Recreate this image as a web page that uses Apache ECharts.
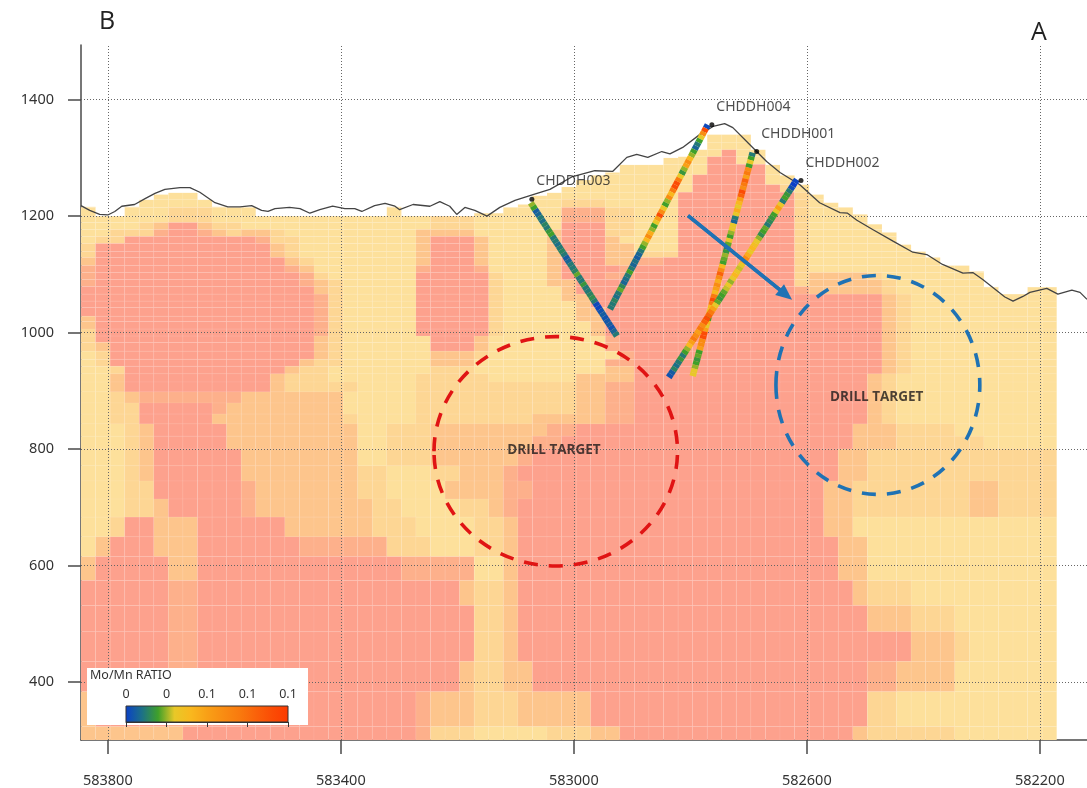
<!DOCTYPE html>
<html><head><meta charset="utf-8">
<style>html,body{margin:0;padding:0;background:#fff}#c{width:1087px;height:788px}</style>
<script src="https://cdn.jsdelivr.net/npm/echarts@6/dist/echarts.min.js"></script>
</head><body><div id="c"></div>
<script>
const xTicks=[582200,582600,583000,583400,583800];
const yTicks=[400,600,800,1000,1200,1400];
const levelColors=['#FFFFFF','#FDE09B','#FDD694','#FDC58C','#FDB08B','#FDA18D'];
const cellWestEdge=583846, cellWidth=25;
const columnTops=[1216,1200,1200,1216,1228,1237,1240,1240,1228,1216,1215,1215,1200,1200,1200,1200,1200,1200,1200,1200,1200,1216,1200,1200,1200,1200,1200,1205,1205,1215,1220,1235,1240,1250,1262,1270,1275,1288,1288,1288,1300,1302,1314,1340,1340,1340,1314,1288,1270,1254,1237,1223,1215,1203,1186,1172,1151,1139,1129,1115,1115,1105,1078,1066,1066,1078,1078];
const rowEdges=[1350,1326,1314,1302,1289,1271,1254,1241,1229,1215,1200,1189,1177,1165,1153,1139,1129,1115,1103,1091,1079,1066,1054,1043,1028,1019,1006,994,983,968,954,942,929,915,898,879,860,843,822,800,771,745,714,683,649,615,574,531,486,435,383,323,300];
const heatRuns=[
"1@67","1@67","1@44 5@45 1@67","1@43 5@45 1@67","1@43 5@47 1@67","1@42 5@47 1@67","1@42 5@48 2@49 1@67",
"1@41 5@49 2@50 1@67","1@33 2@36 1@41 5@49 2@50 1@67","1@6 2@9 1@33 4@36 2@38 1@41 5@49 2@50 1@67",
"1@6 2@9 1@24 2@27 1@33 4@36 2@38 1@41 5@49 2@50 1@67",
"1@4 2@5 3@6 5@8 3@9 2@11 1@24 2@27 1@33 5@36 2@38 1@41 5@49 2@50 1@67",
"1@2 2@5 4@6 5@8 4@9 3@10 2@11 3@13 2@14 1@23 3@27 1@32 3@33 5@36 2@38 1@41 5@49 2@50 1@67",
"1@1 2@3 5@12 4@13 2@15 1@23 3@24 5@27 3@28 1@32 3@33 5@36 3@37 1@41 5@49 2@50 1@67",
"2@1 5@13 3@14 2@15 1@23 3@24 5@27 3@28 1@32 3@33 5@36 3@38 1@41 5@49 2@50 1@67",
"2@1 5@13 3@14 2@15 1@23 3@24 5@27 3@28 1@32 3@33 5@36 3@38 2@41 5@49 2@50 1@67",
"3@1 5@14 3@15 2@16 1@23 3@24 5@27 3@28 1@32 3@33 5@36 3@38 4@40 5@49 2@50 1@67",
"4@1 5@14 4@15 3@16 1@23 4@24 5@27 4@28 1@32 3@33 5@37 4@38 5@49 2@50 1@67",
"4@1 5@15 4@16 2@17 1@23 5@28 2@29 1@32 3@33 5@36 4@38 5@49 2@50 3@54 2@55 1@67",
"4@1 5@15 4@16 3@17 2@18 1@23 5@28 2@29 1@32 3@34 5@49 2@50 3@55 2@56 1@67",
"5@16 3@17 2@18 1@23 5@28 2@29 1@33 3@34 5@49 4@50 3@55 2@56 1@67",
"5@16 4@17 2@18 1@23 5@28 2@29 1@33 3@35 5@55 3@56 2@57 1@67",
"5@16 4@17 2@18 1@23 5@28 2@29 1@34 3@35 5@55 3@56 2@57 1@67",
"5@16 4@17 2@18 1@23 5@28 2@29 1@34 3@36 5@55 3@56 2@57 1@67",
"3@1 5@16 4@17 2@18 1@23 5@28 2@29 1@34 3@36 5@55 3@56 2@57 1@67",
"3@1 5@16 4@17 2@18 1@23 5@28 2@29 1@35 3@36 5@55 3@56 2@57 1@67",
"2@1 5@16 4@17 2@18 1@23 5@28 2@29 1@35 3@36 5@55 3@56 2@57 1@67",
"2@1 5@16 3@17 2@18 1@24 5@27 3@28 1@36 4@37 5@55 3@56 2@57 1@67",
"2@1 3@2 5@16 3@17 2@18 1@24 5@27 3@28 1@36 4@37 5@55 3@56 2@57 1@67",
"1@1 2@2 5@16 3@17 2@18 1@24 3@27 2@28 1@37 4@38 5@55 3@56 2@57 1@67",
"1@1 2@2 5@15 3@16 2@18 1@24 3@27 1@36 4@38 5@55 3@56 2@57 1@67",
"1@2 2@3 5@14 3@15 2@17 1@24 2@27 1@36 3@38 5@55 3@56 2@57 1@67",
"1@2 3@3 5@13 3@14 2@17 1@23 2@28 1@34 3@38 5@54 3@55 2@56 1@67",
"1@2 3@3 5@13 3@14 2@19 1@23 2@31 2@34 3@36 4@38 5@54 3@55 2@56 1@67",
"1@2 2@3 3@4 4@11 3@18 1@23 2@34 3@36 4@38 5@54 3@55 2@56 1@67",
"1@2 2@4 5@9 4@10 3@18 1@23 2@34 3@36 4@38 5@54 3@55 2@56 1@67",
"1@2 2@4 5@9 3@18 2@19 1@23 2@31 3@36 4@38 5@54 3@55 2@56 1@67",
"1@3 2@4 3@5 5@10 3@19 1@21 2@24 3@32 4@34 5@53 3@56 2@60 1@67",
"1@3 2@4 3@5 5@10 3@19 1@21 2@24 3@31 4@33 5@53 3@56 2@62 1@67",
"1@3 2@4 3@5 5@11 3@19 1@21 2@24 3@30 4@31 5@52 3@54 2@67",
"1@3 2@4 3@5 5@11 3@19 2@21 1@24 2@26 3@29 4@30 5@52 3@54 2@67",
"1@3 2@5 5@11 4@12 3@19 2@21 1@25 3@29 4@31 5@51 3@53 2@61 3@63 2@67",
"1@3 2@5 3@6 5@11 4@12 3@20 2@22 1@26 2@28 3@29 4@30 5@51 3@53 2@61 3@63 2@67",
"1@2 2@3 5@5 3@8 5@14 3@20 2@23 1@27 2@29 3@30 5@51 3@53 1@67",
"1@1 3@2 5@5 3@8 5@15 4@21 2@24 1@27 2@29 3@30 5@52 3@54 1@67",
"3@1 5@6 3@8 5@22 4@27 1@29 3@30 5@52 3@54 1@67",
"5@6 4@8 5@26 3@27 2@29 3@30 5@53 3@54 2@57 1@67",
"5@6 4@8 5@27 2@29 3@30 5@54 3@57 2@60 1@67",
"5@6 4@8 5@27 2@29 3@30 5@57 3@60 2@61 1@67",
"5@6 4@8 5@26 3@27 2@29 3@31 5@54 4@56 3@60 1@67",
"3@1 5@6 4@8 5@23 4@24 3@27 2@30 3@35 5@54 2@56 1@67",
"3@7 5@23 4@24 2@27 1@32 2@35 3@37 5@53 3@54 2@60 1@67"
];
const terrainE=[583846,583831,583814,583800,583788,583776,583754,583736,583719,583702,583676,583659,583642,583616,583594,583573,583553,583536,583525,583513,583488,583470,583453,583436,583414,583393,583376,583364,583342,583324,583307,583299,583276,583247,583230,583213,583201,583187,583170,583149,583127,583101,583070,583041,583002,582964,582933,582909,582892,582873,582849,582835,582813,582784,582761,582741,582727,582693,582669,582646,582612,582578,582543,582530,582514,582487,582452,582418,582394,582367,582332,582315,582298,582260,582246,582229,582217,582188,582169,582145,582131,582119];
const terrainZ=[1218,1210,1203,1202,1208,1217,1220,1230,1239,1246,1249,1249,1241,1223,1216,1216,1218,1210,1208,1213,1215,1213,1205,1211,1217,1213,1213,1208,1218,1222,1217,1211,1220,1217,1225,1217,1203,1215,1210,1200,1215,1227,1237,1246,1268,1278,1277,1301,1306,1301,1311,1307,1318,1340,1354,1359,1352,1318,1294,1275,1254,1223,1206,1205,1193,1177,1157,1138,1134,1117,1102,1103,1091,1061,1054,1062,1069,1076,1066,1073,1069,1057];
const holeNames=['CHDDH003','CHDDH004','CHDDH001','CHDDH002'];
const collarE=[583074,582770,582693,582617];
const collarZ=[1223,1357,1309,1263];
const toeE=[582926,582938,582796,582837];
const toeZ=[994,1040,925,923];
const dotE=[583072,582763,582686,582610];
const dotZ=[1229,1357,1311,1261];
const hole003=[.025,.02,.006,.008,.012,.01,.014,.012,.018,.02,.012,.012,.01,.012,.014,.012,.006,.008,.012,.012,.014,.022,.012,.012,.018,.012,.012,.014,.016,.012,.002,.001,.004,.006,.004,.005,.006,.004,.008,.012];
const hole004=[.002,.09,.06,.03,.02,.012,.008,.02,.025,.04,.06,.05,.025,.018,.03,.07,.09,.09,.07,.04,.06,.025,.02,.03,.06,.09,.05,.03,.02,.025,.045,.06,.04,.025,.02,.012,.008,.006,.01,.008,.012,.02,.012,.01,.008,.015,.022,.012,.01,.014,.012,.012];
const hole001=[.012,.02,.03,.02,.06,.07,.05,.08,.07,.06,.09,.08,.05,.04,.03,.045,.03,.012,.008,.03,.03,.025,.02,.03,.022,.012,.018,.025,.022,.02,.04,.06,.08,.06,.045,.06,.05,.04,.07,.09,.07,.04,.03,.03,.02,.04,.03,.05,.09,.09,.06,.06,.05,.02,.022,.018,.02,.025,.03,.03];
const hole002=[.001,.0,.003,.012,.018,.02,.012,.03,.05,.03,.02,.018,.015,.012,.022,.02,.016,.025,.03,.035,.04,.03,.045,.06,.05,.03,.028,.032,.04,.03,.025,.03,.028,.022,.02,.018,.022,.03,.05,.07,.08,.09,.08,.06,.07,.05,.06,.07,.05,.04,.025,.02,.012,.018,.012,.01,.014,.006,.004];
const holeValues=[hole003,hole004,hole001,hole002];
const targetLabels=['DRILL TARGET','DRILL TARGET'];
const targetE=[583031,582478];
const targetZ=[796,910];
const targetRadiusE=[209,175];
const targetRadiusZ=[197,188];
const targetColors=['#E01414','#1F72B4'];
const targetLabelE=[583034,582480];
const targetLabelZ=[798,889];
const arrowStart=[582804,1201];
const arrowEnd=[582636,1065];
const rampColors=['#0A40C8','#1C7088','#3FA02A','#E8C828','#F9B81E','#F9A016','#F98C12','#F97A0E','#FA620A','#FB4C05','#FD3A00'];
const rampTicks=[0,0.025,0.05,0.075,0.1];
const rampTickLabels=['0','0','0.1','0.1','0.1'];
const rampMax=0.1;

const heatData=[];
heatRuns.forEach((row,r)=>{
  let c=0;
  row.split(' ').forEach(run=>{
    const [lv,end]=run.split('@').map(Number);
    for(;c<end;c++){
      const west=cellWestEdge-c*cellWidth, east=west-cellWidth;
      const top=Math.min(rowEdges[r],columnTops[c]), bottom=rowEdges[r+1];
      if(top>bottom) heatData.push([west,east,bottom,top,lv]);
    }
  });
});
const holeData=[];
holeValues.forEach((vals,h)=>vals.forEach((v,i)=>holeData.push([h,i,vals.length,v])));
const chart=echarts.init(document.getElementById('c'),null,{renderer:'canvas'});
const font='"Noto Sans"';
const axisColor='#4a4a4a';
chart.setOption({
  animation:false,
  backgroundColor:'#fff',
  grid:[{left:81,top:45,width:1006,height:696},{left:126,top:706,width:162,height:16}],
  xAxis:[{type:'value',inverse:true,min:582119,max:583846,gridIndex:0,
    splitLine:{show:false},
    axisLine:{show:true,onZero:false,lineStyle:{color:axisColor,width:1.5}},
    axisTick:{show:true,length:14,customValues:xTicks,lineStyle:{color:axisColor,width:1.5}},
    axisLabel:{customValues:xTicks,color:'#333',fontFamily:font,fontSize:14.5,margin:33,formatter:v=>String(v)}},
   {type:'value',gridIndex:1,min:0,max:rampMax,position:'top',z:50,
    splitLine:{show:false},
    axisLine:{show:true,lineStyle:{color:'#333',width:1}},
    axisTick:{show:true,inside:true,length:5,customValues:rampTicks,lineStyle:{color:'#333',width:1}},
    axisLabel:{customValues:rampTicks,color:'#333',fontFamily:font,fontSize:12.5,margin:5,showMinLabel:true,showMaxLabel:true,
      formatter:v=>rampTickLabels[rampTicks.indexOf(v)]}}],
  yAxis:[{type:'value',min:300,max:1494,gridIndex:0,
    splitLine:{show:false},
    axisLine:{show:true,onZero:false,lineStyle:{color:axisColor,width:1.5}},
    axisTick:{show:true,length:13,customValues:yTicks,lineStyle:{color:axisColor,width:1.5}},
    axisLabel:{customValues:yTicks,color:'#333',fontFamily:font,fontSize:14.5,margin:27,formatter:v=>String(v)}},
   {type:'value',gridIndex:1,min:0,max:1,show:false}],
  graphic:[
    {type:'rect',z:30,shape:{x:87,y:668,width:221,height:57},style:{fill:'#fff'}},
    {type:'text',z:50,x:90,y:669,style:{text:'Mo/Mn RATIO',fill:'#333',font:'12.5px "Noto Sans"'}},
    {type:'text',z:50,x:99,y:9,style:{text:'B',fill:'#222',font:'25px "Open Sans"'}},
    {type:'text',z:50,x:1031,y:20,style:{text:'A',fill:'#222',font:'25px "Open Sans"'}}
  ],
  series:[
    {type:'custom',name:'heat',z:1,clip:true,xAxisIndex:0,yAxisIndex:0,silent:true,
     data:heatData,encode:{x:[0,1],y:[2,3]},
     renderItem(p,api){
       const a=api.coord([api.value(0),api.value(3)]),b=api.coord([api.value(1),api.value(2)]);
       return {type:'rect',shape:{x:a[0],y:a[1],width:b[0]-a[0],height:b[1]-a[1]},
         style:{fill:levelColors[api.value(4)],stroke:'rgba(255,255,255,0.09)',lineWidth:0.7}};
     }},
    {type:'line',name:'terrain',z:3,xAxisIndex:0,yAxisIndex:0,showSymbol:false,silent:true,
     data:terrainE.map((e,i)=>[e,terrainZ[i]]),
     lineStyle:{color:'#444',width:1.3},
     markLine:{silent:true,symbol:'none',z:2,animation:false,label:{show:false},
       lineStyle:{color:'#666',type:[1,2],width:1},
       data:[...xTicks.map(v=>({xAxis:v})),...yTicks.map(v=>({yAxis:v}))]}},
    {type:'custom',name:'holes',z:4,xAxisIndex:0,yAxisIndex:0,silent:true,
     data:holeData,encode:{x:-1,y:-1},
     renderItem(p,api){
       const h=api.value(0),i=api.value(1),n=api.value(2),v=api.value(3);
       const s=api.coord([collarE[h],collarZ[h]]),t=api.coord([toeE[h],toeZ[h]]);
       const f0=i/n,f1=(i+1)/n;
       return {type:'line',shape:{x1:s[0]+(t[0]-s[0])*f0,y1:s[1]+(t[1]-s[1])*f0,x2:s[0]+(t[0]-s[0])*f1,y2:s[1]+(t[1]-s[1])*f1},
         style:{stroke:echarts.color.lerp(v/rampMax,rampColors),lineWidth:6.5,lineCap:'butt'}};
     }},
    {type:'scatter',name:'collars',z:6,xAxisIndex:0,yAxisIndex:0,silent:true,symbolSize:5,
     itemStyle:{color:'#000'},
     data:dotE.map((e,i)=>({value:[e,dotZ[i]],name:holeNames[i]})),
     label:{show:true,position:'right',distance:2,offset:[0,-18],formatter:'{b}',color:'#222',fontFamily:font,fontSize:14}},
    {type:'custom',name:'targets',z:5,xAxisIndex:0,yAxisIndex:0,silent:true,
     data:targetE.map((e,i)=>[e,targetZ[i],targetRadiusE[i],targetRadiusZ[i],i]),encode:{x:0,y:1},
     renderItem(p,api){
       const c=api.coord([api.value(0),api.value(1)]),sz=api.size([api.value(2),api.value(3)]);
       return {type:'ellipse',shape:{cx:c[0],cy:c[1],rx:sz[0],ry:sz[1]},
         style:{fill:'none',stroke:targetColors[api.value(4)],lineWidth:3.6,lineDash:[14,11]}};
     }},
    {type:'scatter',name:'targetLabels',z:6,xAxisIndex:0,yAxisIndex:0,silent:true,symbolSize:0,
     data:targetLabelE.map((e,i)=>({value:[e,targetLabelZ[i]],name:targetLabels[i]})),
     label:{show:true,position:'inside',formatter:'{b}',color:'#1e1a1a',fontFamily:'"Open Sans"',fontWeight:'bold',fontSize:13.5}},
    {type:'line',name:'arrow',z:5,xAxisIndex:0,yAxisIndex:0,silent:true,showSymbol:false,
     data:[arrowStart,arrowEnd],lineStyle:{color:'#1F72B4',width:3.5},
     markLine:{silent:true,z:5,animation:false,symbol:['none','triangle'],symbolSize:[14,16],label:{show:false},
       lineStyle:{color:'#1F72B4',type:'solid',width:3.5},
       data:[[{coord:arrowStart},{coord:arrowEnd}]]}},
    {type:'custom',name:'ramp',z:40,xAxisIndex:1,yAxisIndex:1,silent:true,
     data:[[0,rampMax,0,1]],encode:{x:[0,1],y:[2,3]},
     renderItem(p,api){
       const a=api.coord([api.value(0),api.value(3)]),b=api.coord([api.value(1),api.value(2)]);
       return {type:'rect',shape:{x:a[0],y:a[1],width:b[0]-a[0],height:b[1]-a[1]},
         style:{stroke:'#333',lineWidth:1,fill:new echarts.graphic.LinearGradient(0,0,1,0,
           rampColors.map((c,i)=>({offset:i/(rampColors.length-1),color:c})))}};
     }}
  ]
});
</script></body></html>
